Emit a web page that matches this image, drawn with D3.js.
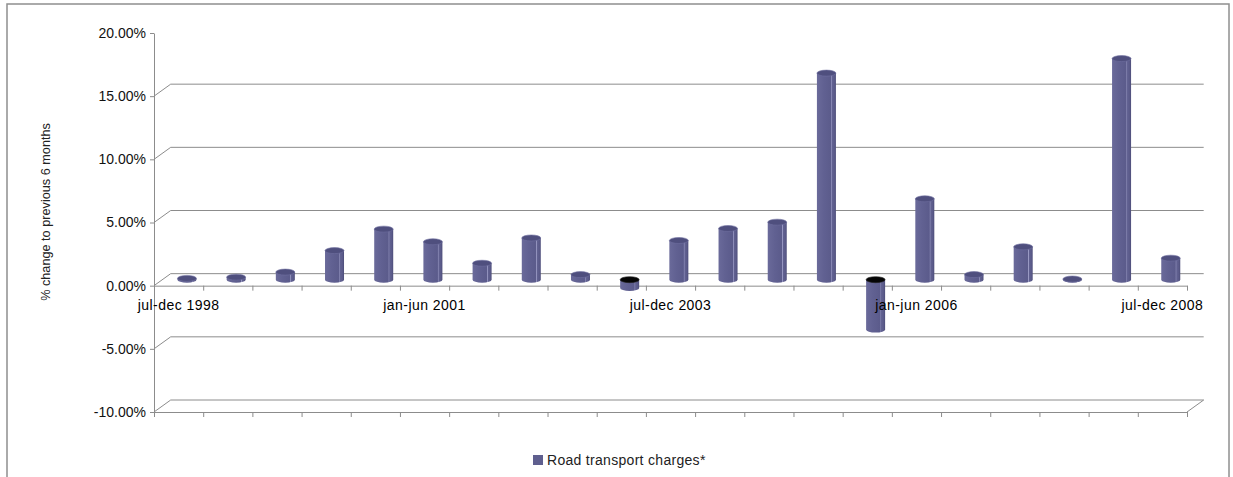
<!DOCTYPE html>
<html><head><meta charset="utf-8">
<script src="https://cdn.jsdelivr.net/npm/d3@7"></script>
<style>
html,body{margin:0;padding:0;background:#fff;}
svg{display:block;font-family:"Liberation Sans",Arial,sans-serif;}
</style></head>
<body>
<svg id="c" width="1233" height="477"></svg>
<script>
const categories = ["jul-dec 1998","jan-jun 1999","jul-dec 1999","jan-jun 2000","jul-dec 2000","jan-jun 2001","jul-dec 2001","jan-jun 2002","jul-dec 2002","jan-jun 2003","jul-dec 2003","jan-jun 2004","jul-dec 2004","jan-jun 2005","jul-dec 2005","jan-jun 2006","jul-dec 2006","jan-jun 2007","jul-dec 2007","jan-jun 2008","jul-dec 2008"];
const values = [0.1,0.2,0.6,2.3,4.0,3.0,1.3,3.3,0.4,-0.65,3.1,4.05,4.55,16.35,-3.95,6.4,0.4,2.6,0.05,17.5,1.7];
const seriesName = "Road transport charges*";
const yTicks = [-10,-5,0,5,10,15,20];
const labelEvery = 5;

const svg = d3.select("#c");
const L = 154, R = 1187, T = 33, B = 412;
const DX = 16.7, DY = -12;
const y = d3.scaleLinear().domain([-10,20]).range([B,T]);
const xb = d3.scaleBand().domain(categories).range([L,R]).padding(0);
const xi = d3.scaleLinear().domain([0,categories.length]).range([L,R]);
const gridC = "#8c8c8c";

// outer frame
svg.append("rect").attr("x",7).attr("y",4).attr("width",1222).attr("height",490)
  .attr("fill","none").attr("stroke","#8f8f8f").attr("stroke-width",1.5);

// back wall gridlines + depth diagonals
const grid = svg.append("g");
yTicks.filter(v=>v<20).forEach(v=>{
  grid.append("line").attr("x1",L+DX).attr("x2",R+DX).attr("y1",y(v)+DY).attr("y2",y(v)+DY)
    .attr("stroke",gridC).attr("stroke-width",1);
  grid.append("line").attr("x1",L).attr("x2",L+DX).attr("y1",y(v)).attr("y2",y(v)+DY)
    .attr("stroke",gridC).attr("stroke-width",1);
});
grid.append("line").attr("x1",R).attr("x2",R+DX).attr("y1",y(-10)).attr("y2",y(-10)+DY)
  .attr("stroke",gridC);

// floor front axis (-10)
const xAxisFloor = svg.append("g").attr("transform",`translate(0,${y(-10)})`)
  .call(d3.axisBottom(xi).tickValues(d3.range(0,categories.length+1)).tickFormat("").tickSize(5).tickSizeOuter(0));
xAxisFloor.selectAll("path,line").attr("stroke",gridC);

// defs
const defs = svg.append("defs");
const gb = defs.append("linearGradient").attr("id","body").attr("x1","0").attr("x2","1").attr("y1","0").attr("y2","0");
[[0,"#6a6a9a"],[0.35,"#616192"],[0.74,"#5b5b8b"],[0.78,"#9a9ac4"],[0.81,"#626292"],[0.93,"#5a5a89"],[1,"#4c4c78"]]
  .forEach(s=>gb.append("stop").attr("offset",s[0]).attr("stop-color",s[1]));

// y axis
const yAxis = svg.append("g").attr("transform",`translate(${L},0)`)
  .call(d3.axisLeft(y).tickValues(yTicks).tickSize(4).tickSizeOuter(0).tickPadding(4)
    .tickFormat(d=>d.toFixed(2)+"%"));
yAxis.selectAll("path,line").attr("stroke",gridC);
yAxis.selectAll("text").attr("font-size",14).attr("fill","#111")
  .attr("font-family","'Liberation Sans',Arial,sans-serif");

// zero category axis
const xAxisZero = svg.append("g").attr("transform",`translate(0,${y(0)})`)
  .call(d3.axisBottom(xi).tickValues(d3.range(0,categories.length+1)).tickFormat("").tickSize(5).tickSizeOuter(0));
xAxisZero.selectAll("path,line").attr("stroke",gridC);

// cylinders
const rx = 9.5, ry = 3;
const bars = svg.append("g");
categories.forEach((c,i)=>{
  const v = values[i];
  const cx = xb(c) + xb.bandwidth()/2 + DX*0.5;
  const y0 = y(0) + DY*0.5;
  const y1 = y(v) + DY*0.5;
  const top = Math.min(y0,y1), bot = Math.max(y0,y1);
  const g = bars.append("g");
  const p = `M${cx-rx},${top} L${cx-rx},${bot} A${rx},${ry} 0 0 0 ${cx+rx},${bot} L${cx+rx},${top} Z`;
  g.append("path").attr("d",p).attr("fill","url(#body)");
  g.append("ellipse").attr("cx",cx).attr("cy",top).attr("rx",rx).attr("ry",ry)
    .attr("fill", v<0 ? "#050505" : "#4f4f7e")
    .attr("stroke", v<0 ? "#222" : "#6e6ea0").attr("stroke-width",0.6);
});

// category labels
const labG = svg.append("g");
categories.forEach((c,i)=>{
  if(i % labelEvery !== 0) return;
  labG.append("text").attr("x",xb(c)+xb.bandwidth()/2).attr("y",310)
    .attr("text-anchor","middle").attr("font-size",14).attr("letter-spacing",0.45)
    .attr("fill","#000").text(c);
});

// y title
svg.append("text").attr("transform","translate(50,212) rotate(-90)")
  .attr("text-anchor","middle").attr("font-size",12.7).attr("fill","#222")
  .text("% change to previous 6 months");

// legend
svg.append("rect").attr("x",533).attr("y",455).attr("width",10).attr("height",10).attr("fill","#5f5f8f");
svg.append("text").attr("x",547).attr("y",465).attr("font-size",14).attr("letter-spacing",0.3)
  .attr("fill","#222").text(seriesName);
</script>
</body></html>
